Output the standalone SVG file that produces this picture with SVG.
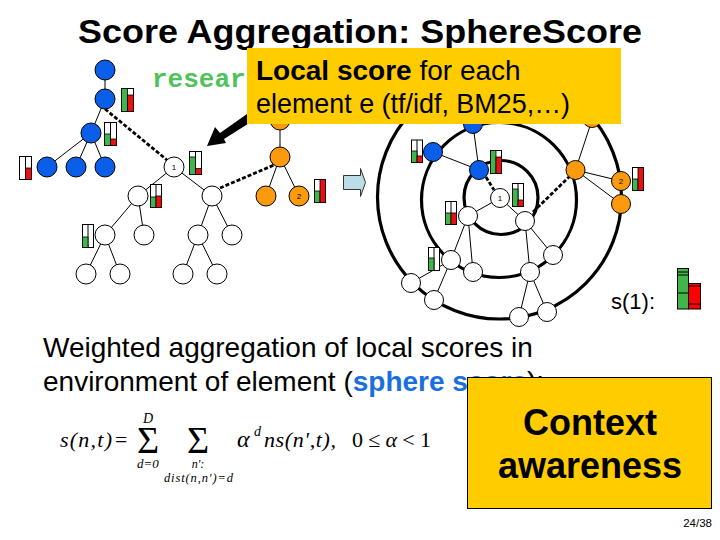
<svg xmlns="http://www.w3.org/2000/svg" width="720" height="540" viewBox="0 0 720 540">
<style>
text{font-family:"Liberation Sans",Arial,sans-serif;fill:#000}
.b{font-weight:bold}
.n circle,circle.n{stroke:#000;stroke-width:1}
.bl{fill:#0a5ee8}.or{fill:#fb9a0c}.wh{fill:#fff}
.lbl{font-size:8px;text-anchor:middle}
.ln line{stroke:#000;stroke-width:1}
.ds line{stroke:#000;stroke-width:2.8;stroke-dasharray:4 2}
.ring{fill:none;stroke:#000;stroke-width:3.2}
.f{font-family:"Liberation Serif","Times New Roman",serif;font-style:italic}
.fr{font-family:"Liberation Serif","Times New Roman",serif}
.frame{fill:#fff;stroke:#000;stroke-width:1}
.g{fill:#3fb54a;stroke:#000;stroke-width:.8}
.r{fill:#e81010;stroke:#000;stroke-width:.8}
.box{fill:#fc0}
</style>
<text class="b" x="78" y="43" font-size="33" textLength="564" lengthAdjust="spacingAndGlyphs">Score Aggregation: SphereScore</text>
<text x="152" y="87" font-size="26" font-weight="bold" style="font-family:'Liberation Mono','Courier New',monospace;fill:#4fc25a">resear</text>
<g id="rings">
<circle class="ring" cx="501" cy="197.500" r="37"/>
<circle class="ring" cx="499" cy="200" r="77.500"/>
<circle class="ring" cx="499.500" cy="197" r="122"/>
</g>
<g id="connectors">
<g class="ln">
<line x1="105" y1="70" x2="105" y2="99"/><line x1="105" y1="99" x2="91" y2="133"/><line x1="91" y1="133" x2="47" y2="167"/><line x1="91" y1="133" x2="76" y2="167"/><line x1="91" y1="133" x2="105" y2="167"/>
<line x1="280" y1="120" x2="280" y2="157"/><line x1="280" y1="157" x2="266" y2="196"/><line x1="280" y1="157" x2="299" y2="196"/>
<line x1="174" y1="167" x2="138" y2="196"/><line x1="174" y1="167" x2="212" y2="196"/><line x1="138" y1="196" x2="105" y2="235"/><line x1="138" y1="196" x2="144" y2="235"/><line x1="212" y1="196" x2="198" y2="235"/><line x1="212" y1="196" x2="232" y2="235"/><line x1="105" y1="235" x2="86" y2="274"/><line x1="105" y1="235" x2="120" y2="274"/><line x1="198" y1="235" x2="183" y2="274"/><line x1="198" y1="235" x2="217" y2="274"/>
<line x1="473" y1="125" x2="479" y2="170"/><line x1="433" y1="152" x2="479" y2="170"/><line x1="500" y1="198" x2="468" y2="216"/><line x1="500" y1="198" x2="525" y2="221"/><line x1="468" y1="216" x2="451" y2="260"/><line x1="468" y1="216" x2="473" y2="272"/><line x1="525" y1="221" x2="530" y2="272"/><line x1="525" y1="221" x2="553" y2="255"/><line x1="451" y1="260" x2="411" y2="283"/><line x1="451" y1="260" x2="434" y2="300"/><line x1="530" y1="272" x2="519" y2="317"/><line x1="530" y1="272" x2="547" y2="312"/><line x1="575.500" y1="170" x2="592" y2="120"/><line x1="575.500" y1="170" x2="621" y2="181"/><line x1="575.500" y1="170" x2="621" y2="204"/>
</g>
<g class="ds">
<line x1="105" y1="109" x2="167" y2="160"/><line x1="220" y1="188" x2="274" y2="165"/><line x1="486" y1="177" x2="494" y2="190"/><line x1="533" y1="212" x2="570" y2="176"/>
</g>
</g>
<g id="tree-left" class="n">
<g id="n1"><circle class="bl" cx="105" cy="70" r="10"/></g>
<g id="n2"><circle class="bl" cx="105" cy="99" r="10"/></g>
<g id="n3"><circle class="bl" cx="91" cy="133" r="10"/></g>
<g id="n4"><circle class="bl" cx="47" cy="167" r="10"/></g>
<g id="n5"><circle class="bl" cx="76" cy="167" r="10"/></g>
<g id="n6"><circle class="bl" cx="105" cy="167" r="10"/></g>
<g id="n7"><circle class="or" cx="280" cy="120" r="10"/></g>
<g id="n8"><circle class="or" cx="280" cy="157" r="10"/></g>
<g id="n9"><circle class="or" cx="266" cy="196" r="10"/></g>
<g id="n10"><circle class="or" cx="299" cy="196" r="10"/><text class="lbl" x="299" y="199">2</text></g>
<g id="n11"><circle class="wh" cx="174" cy="167" r="10"/><text class="lbl" x="174" y="170">1</text></g>
<g id="n12"><circle class="wh" cx="138" cy="196" r="10"/></g>
<g id="n13"><circle class="wh" cx="212" cy="196" r="10"/></g>
<g id="n14"><circle class="wh" cx="105" cy="235" r="10"/></g>
<g id="n15"><circle class="wh" cx="144" cy="235" r="10"/></g>
<g id="n16"><circle class="wh" cx="198" cy="235" r="10"/></g>
<g id="n17"><circle class="wh" cx="232" cy="235" r="10"/></g>
<g id="n18"><circle class="wh" cx="86" cy="274" r="10"/></g>
<g id="n19"><circle class="wh" cx="120" cy="274" r="10"/></g>
<g id="n20"><circle class="wh" cx="183" cy="274" r="10"/></g>
<g id="n21"><circle class="wh" cx="217" cy="274" r="10"/></g>
</g>
<g id="tree-right" class="n">
<g id="m1"><circle class="bl" cx="473" cy="124" r="9.500"/></g>
<g id="m2"><circle class="bl" cx="433" cy="152" r="9.500"/></g>
<g id="m3"><circle class="bl" cx="479" cy="170" r="9.500"/></g>
<g id="m4"><circle class="or" cx="592" cy="118" r="9.500"/></g>
<g id="m5"><circle class="or" cx="575.500" cy="170" r="9.500"/></g>
<g id="m6"><circle class="or" cx="621" cy="181" r="9.500"/><text class="lbl" x="621" y="184">2</text></g>
<g id="m7"><circle class="or" cx="621" cy="204" r="9.500"/></g>
<g id="m8"><circle class="wh" cx="500" cy="198" r="9.500"/><text class="lbl" x="500" y="201">1</text></g>
<g id="m9"><circle class="wh" cx="468" cy="216" r="9.500"/></g>
<g id="m10"><circle class="wh" cx="525" cy="221" r="9.500"/></g>
<g id="m11"><circle class="wh" cx="451" cy="260" r="9.500"/></g>
<g id="m12"><circle class="wh" cx="473" cy="272" r="9.500"/></g>
<g id="m13"><circle class="wh" cx="530" cy="272" r="9.500"/></g>
<g id="m14"><circle class="wh" cx="553" cy="255" r="9.500"/></g>
<g id="m15"><circle class="wh" cx="411" cy="283" r="9.500"/></g>
<g id="m16"><circle class="wh" cx="434" cy="300" r="9.500"/></g>
<g id="m17"><circle class="wh" cx="519" cy="317" r="9.500"/></g>
<g id="m18"><circle class="wh" cx="547" cy="312" r="9.500"/></g>
</g>
<g id="bars">
<g id="b1"><rect class="frame" x="121.500" y="88.500" width="12" height="23"/><rect class="g" x="121.500" y="88.500" width="6" height="23"/><rect class="r" x="127.500" y="95" width="6" height="16.500"/></g>
<g id="b2"><rect class="frame" x="104.500" y="122.500" width="12" height="23"/><line x1="110.500" y1="122.500" x2="110.500" y2="145.500" stroke="#000"/><rect class="g" x="104.500" y="134" width="6" height="11.500"/><rect class="r" x="110.500" y="139" width="6" height="6.500"/></g>
<g id="b3"><rect class="frame" x="19.500" y="156.500" width="12" height="23"/><line x1="25.500" y1="156.500" x2="25.500" y2="179.500" stroke="#000"/><rect class="r" x="25.500" y="168" width="6" height="11.500"/></g>
<g id="b4"><rect class="frame" x="189.500" y="151.500" width="12" height="23"/><line x1="195.500" y1="151.500" x2="195.500" y2="174.500" stroke="#000"/><rect class="g" x="189.500" y="157" width="6" height="17.500"/><rect class="r" x="195.500" y="168.500" width="6" height="6"/></g>
<g id="b5"><rect class="frame" x="150.500" y="184.500" width="11" height="23"/><line x1="156" y1="184.500" x2="156" y2="207.500" stroke="#000"/><rect class="g" x="150.500" y="197" width="5.500" height="10.500"/><rect class="r" x="156" y="196" width="5.500" height="11.500"/></g>
<g id="b6"><rect class="frame" x="82.500" y="224.500" width="11" height="23"/><line x1="88" y1="224.500" x2="88" y2="247.500" stroke="#000"/><rect class="g" x="82.500" y="237" width="5.500" height="10.500"/></g>
<g id="b7"><rect class="frame" x="314.500" y="179.500" width="11" height="23"/><rect class="g" x="314.500" y="191" width="5.500" height="11.500"/><rect class="r" x="320" y="179.500" width="5.500" height="23"/></g>
<g id="b8"><rect class="frame" x="411.500" y="140" width="11" height="22.500"/><line x1="417" y1="140" x2="417" y2="162.500" stroke="#000"/><rect class="g" x="411.500" y="151" width="5.500" height="11.500"/><rect class="r" x="417" y="156" width="5.500" height="6.500"/></g>
<g id="b9"><rect class="frame" x="490.500" y="150.500" width="11" height="23"/><rect class="g" x="490.500" y="150.500" width="5.500" height="23"/><rect class="r" x="496" y="157" width="5.500" height="16.500"/></g>
<g id="b10"><rect class="frame" x="512.500" y="183.500" width="11" height="23"/><line x1="518" y1="183.500" x2="518" y2="206.500" stroke="#000"/><rect class="g" x="512.500" y="189" width="5.500" height="17.500"/><rect class="r" x="518" y="200" width="5.500" height="6.500"/></g>
<g id="b11"><rect class="frame" x="632.500" y="167.500" width="11" height="23"/><rect class="g" x="632.500" y="179" width="5.500" height="11.500"/><rect class="r" x="638" y="167.500" width="5.500" height="23"/></g>
<g id="b12"><rect class="frame" x="445.500" y="201.500" width="11" height="23"/><line x1="451" y1="201.500" x2="451" y2="224.500" stroke="#000"/><rect class="g" x="445.500" y="213" width="5.500" height="11.500"/><rect class="r" x="451" y="213" width="5.500" height="11.500"/></g>
<g id="b13"><rect class="frame" x="428.500" y="247.500" width="11" height="23"/><line x1="434" y1="247.500" x2="434" y2="270.500" stroke="#000"/><rect class="g" x="428.500" y="258" width="5.500" height="12.500"/></g>
<g id="b14"><rect class="g" x="677.500" y="268.500" width="11" height="40.500" style="stroke-width:1"/><line x1="677.500" y1="272" x2="688.500" y2="272" stroke="#000"/><line x1="677.500" y1="275" x2="688.500" y2="275" stroke="#000"/><line x1="677.500" y1="293" x2="688.500" y2="293" stroke="#000"/><rect class="r" x="688.500" y="283.500" width="12" height="25.500" style="stroke-width:1;fill:#f00"/><line x1="688.500" y1="286" x2="700.500" y2="286" stroke="#000"/><line x1="688.500" y1="304" x2="700.500" y2="304" stroke="#000"/></g>
</g>
<polygon id="big-arrow" points="247,114 251,122 224,139 226,143 207,146 215,127 220,133" fill="#000"/>
<polygon id="step-arrow" points="343.500,175.500 360.500,175.500 360.500,168.500 365.500,182.500 360.500,196.500 360.500,189.500 343.500,189.500" fill="#bcdde6" stroke="#333" stroke-width="1"/>
<g id="box-local">
<rect class="box" x="247" y="48" width="374" height="76"/>
<text x="256" y="80" font-size="28"><tspan class="b">Local score</tspan> for each</text>
<text x="256" y="113" font-size="28" textLength="314" lengthAdjust="spacingAndGlyphs">element e (tf/idf, BM25,…)</text>
</g>
<text x="611" y="309" font-size="22">s(1):</text>
<text x="43" y="357" font-size="28">Weighted aggregation of local scores in</text>
<text x="43" y="391" font-size="28">environment of element (<tspan class="b" style="fill:#1a6fe0">sphere score</tspan>):</text>
<g id="formula">
<text class="f" x="60" y="447" font-size="22" textLength="52">s(n,t)</text>
<text class="fr" x="115" y="447" font-size="22">=</text>
<text class="fr" x="137" y="453" font-size="38">Σ</text>
<text class="f" x="143" y="423" font-size="14">D</text>
<text class="f" x="137" y="468" font-size="13">d=0</text>
<text class="fr" x="187" y="453" font-size="38">Σ</text>
<text class="f" x="198" y="468" font-size="12" text-anchor="middle">n':</text>
<text class="f" x="164" y="482" font-size="12.500" textLength="69">dist(n,n')=d</text>
<text class="f" x="237" y="447" font-size="24">α</text>
<text class="f" x="254" y="436" font-size="14">d</text>
<text class="f" x="264" y="447" font-size="22" textLength="72">ns(n',t),</text>
<text class="fr" x="352" y="447" font-size="22" textLength="79">0≤<tspan class="f">α</tspan>&lt;1</text>
</g>
<g id="box-context">
<rect class="box" x="467.500" y="377.500" width="244" height="131" stroke="#000" stroke-width="1"/>
<text class="b" x="590" y="435" font-size="36" text-anchor="middle">Context</text>
<text class="b" x="590" y="478" font-size="36" text-anchor="middle">awareness</text>
</g>
<text x="712" y="527" font-size="11.500" text-anchor="end">24/38</text>
</svg>
